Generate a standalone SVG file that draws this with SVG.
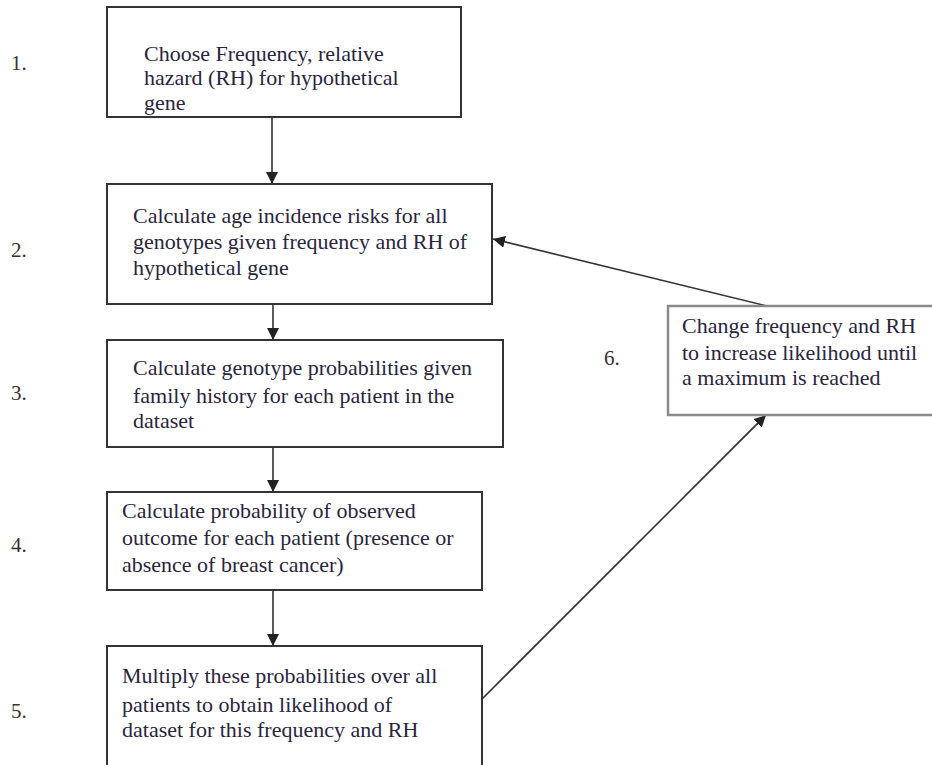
<svg xmlns="http://www.w3.org/2000/svg" width="932" height="765" viewBox="0 0 932 765">
  <style>
    .box { fill: #ffffff; stroke: #333333; stroke-width: 2; }
    .box-light { fill: #ffffff; stroke: #8a8a8a; stroke-width: 2.5; }
    .txt { font-family: "Liberation Serif", "Times New Roman", serif; font-size: 22px; fill: #2a2540; }
    .num { font-family: "Liberation Serif", "Times New Roman", serif; font-size: 21px; fill: #3a3030; }
    .edge { fill: none; stroke: #333333; stroke-width: 1.6; }
  </style>
  <defs>
    <marker id="arrow" viewBox="0 0 12 12" refX="12" refY="6" markerWidth="12" markerHeight="12" markerUnits="userSpaceOnUse" orient="auto">
      <path d="M0,0 L12,6 L0,12 z" fill="#222222"/>
    </marker>
  </defs>
  <rect width="932" height="765" fill="#ffffff"/>

  <!-- step numbers -->
  <g id="step-numbers">
    <text class="num" x="11" y="70">1.</text>
    <text class="num" x="11" y="257">2.</text>
    <text class="num" x="11" y="400">3.</text>
    <text class="num" x="11" y="552">4.</text>
    <text class="num" x="11" y="718">5.</text>
    <text class="num" x="604" y="365">6.</text>
  </g>

  <g id="connectors">
    <line class="edge" x1="272" y1="117" x2="272" y2="184" marker-end="url(#arrow)"/>
    <line class="edge" x1="273" y1="304" x2="273" y2="340" marker-end="url(#arrow)"/>
    <line class="edge" x1="273" y1="447" x2="273" y2="492" marker-end="url(#arrow)"/>
    <line class="edge" x1="273" y1="590" x2="273" y2="646" marker-end="url(#arrow)"/>
    <line class="edge" x1="482" y1="699" x2="766" y2="415" marker-end="url(#arrow)"/>
    <line class="edge" x1="767" y1="306" x2="493" y2="239" marker-end="url(#arrow)"/>
  </g>

  <g id="node1">
    <rect class="box" x="107" y="7" width="354" height="110"/>
    <text class="txt" x="144" y="61">Choose Frequency, relative</text>
    <text class="txt" x="144" y="85">hazard (RH) for hypothetical</text>
    <text class="txt" x="144" y="110">gene</text>
  </g>

  <g id="node2">
    <rect class="box" x="107" y="184" width="385" height="120"/>
    <text class="txt" x="133" y="223">Calculate age incidence risks for all</text>
    <text class="txt" x="133" y="249">genotypes given frequency and RH of</text>
    <text class="txt" x="133" y="275">hypothetical gene</text>
  </g>

  <g id="node3">
    <rect class="box" x="107" y="340" width="396" height="107"/>
    <text class="txt" x="133" y="375">Calculate genotype probabilities given</text>
    <text class="txt" x="133" y="403">family history for each patient in the</text>
    <text class="txt" x="133" y="428">dataset</text>
  </g>

  <g id="node4">
    <rect class="box" x="107" y="492" width="375" height="98"/>
    <text class="txt" x="122" y="518">Calculate probability of observed</text>
    <text class="txt" x="122" y="545">outcome for each patient (presence or</text>
    <text class="txt" x="122" y="572">absence of breast cancer)</text>
  </g>

  <g id="node5">
    <rect class="box" x="107" y="646" width="375" height="140"/>
    <text class="txt" x="122" y="683">Multiply these probabilities over all</text>
    <text class="txt" x="122" y="712">patients to obtain likelihood of</text>
    <text class="txt" x="122" y="737">dataset for this frequency and RH</text>
  </g>

  <g id="node6">
    <rect class="box-light" x="668" y="306" width="280" height="109"/>
    <text class="txt" x="682" y="333">Change frequency and RH</text>
    <text class="txt" x="682" y="360">to increase likelihood until</text>
    <text class="txt" x="682" y="385">a maximum is reached</text>
  </g>
</svg>
